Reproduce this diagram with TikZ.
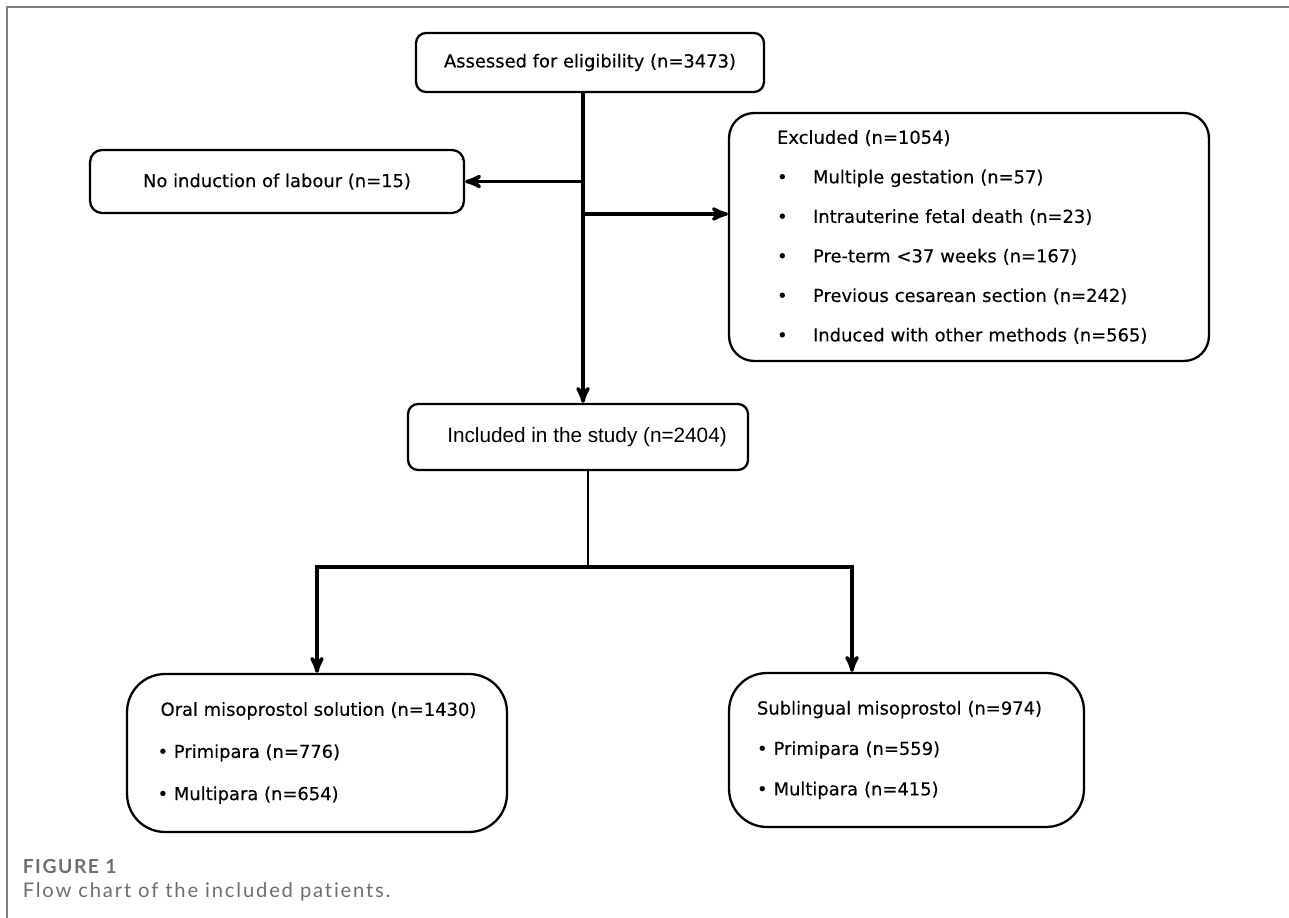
\documentclass[tikz,border=0pt]{standalone}
\usepackage{fontspec}
\setmainfont{DejaVu Sans}[FakeBold=0.3]
\newfontfamily\inclfont{Liberation Sans}
\newfontfamily\capfont{Lato}[Ligatures=NoCommon]
\usepackage{tikz}
\usetikzlibrary{arrows,positioning,calc}
\definecolor{framegray}{HTML}{808080}
\definecolor{capgray}{HTML}{6E6E6E}
\newcommand{\exitem}{\makebox[0.72cm][l]{\textbullet}}

\begin{document}
\begin{tikzpicture}[->,>=stealth',x=0.02cm,y=-0.02cm,line width=2pt,
 box/.style={draw, line width=1.3pt, font=\fontsize{10.2}{12}\selectfont}]
 \useasboundingbox (0,0) rectangle (1289,918);
 \draw[-, framegray, line width=1pt] (7,918) -- (7,7) -- (1289,7);
 \node[box, rounded corners=2mm, minimum width=6.96cm, minimum height=1.18cm] (assess) at (590, 62.5) {Assessed for eligibility (n=3473)};
 \node[box, rounded corners=2.4mm, minimum width=7.48cm, minimum height=1.26cm] (noind) at (277, 181.5) {No induction of labour (n=15)};
 \node[box, rounded corners=5mm, minimum height=4.96cm, text width=7.68cm, inner xsep=0.96cm, align=left, font=\fontsize{10.2}{22.5}\selectfont] (excl) at (969, 237) {Excluded (n=1054)\\ \exitem Multiple gestation (n=57)\\ \exitem Intrauterine fetal death (n=23)\\ \exitem Pre-term <37 weeks (n=167)\\ \exitem Previous cesarean section (n=242)\\ \exitem Induced with other methods (n=565)};
 \node[box, rounded corners=2mm, minimum width=6.8cm, minimum height=1.32cm, font=\inclfont\fontsize{11.8}{14}\selectfont] (incl) at (578, 437) {\hspace{0.36cm}Included in the study (n=2404)};
 \node[box, rounded corners=7.6mm, minimum width=7.6cm, minimum height=3.16cm, align=left, font=\fontsize{10.2}{24}\selectfont] (oral) at (317, 753) {\hspace{0.06cm}Oral misoprostol solution (n=1430)\\ \textbullet\ Primipara (n=776)\\ \textbullet\ Multipara (n=654)};
 \node[box, rounded corners=7.6mm, minimum height=3.08cm, text width=5.98cm, inner xsep=0.56cm, align=left, font=\fontsize{10.2}{23}\selectfont] (subl) at (906.5, 750) {Sublingual misoprostol (n=974)\\ \textbullet\ Primipara (n=559)\\ \textbullet\ Multipara (n=415)};
 \coordinate (exclin) at ([yshift=4.6mm]excl.west);
 \coordinate (fork) at (588, 567);
% \node (trunk) at (583, 92) {};
 \draw ([xshift=-1.4mm]assess.south) -- ([xshift=-1.4mm]assess.south |- incl.north);
 \draw ([xshift=-1.4mm]assess.south |- noind.east) -- (noind.east);
 \draw ([xshift=-1.4mm]assess.south |- exclin) -- (exclin);
 \draw[-, line width=1.6pt] (fork |- incl.south) -- (fork);
 \draw (fork) -| (oral.north);
 \draw (fork) -| ([xshift=-10.9mm]subl.north);
 \node[anchor=base west, inner sep=0, text=capgray, font=\capfont\bfseries\fontsize{11}{13}\selectfont\addfontfeatures{LetterSpace=8}] (fig) at (21, 873) {FIGURE 1};
 \node[anchor=base west, inner sep=0, text=capgray, font=\capfont\fontsize{11.5}{13}\selectfont\addfontfeatures{LetterSpace=9}] (capt) at (21, 897) {Flow chart of the included patients.};
\end{tikzpicture}
\end{document}
